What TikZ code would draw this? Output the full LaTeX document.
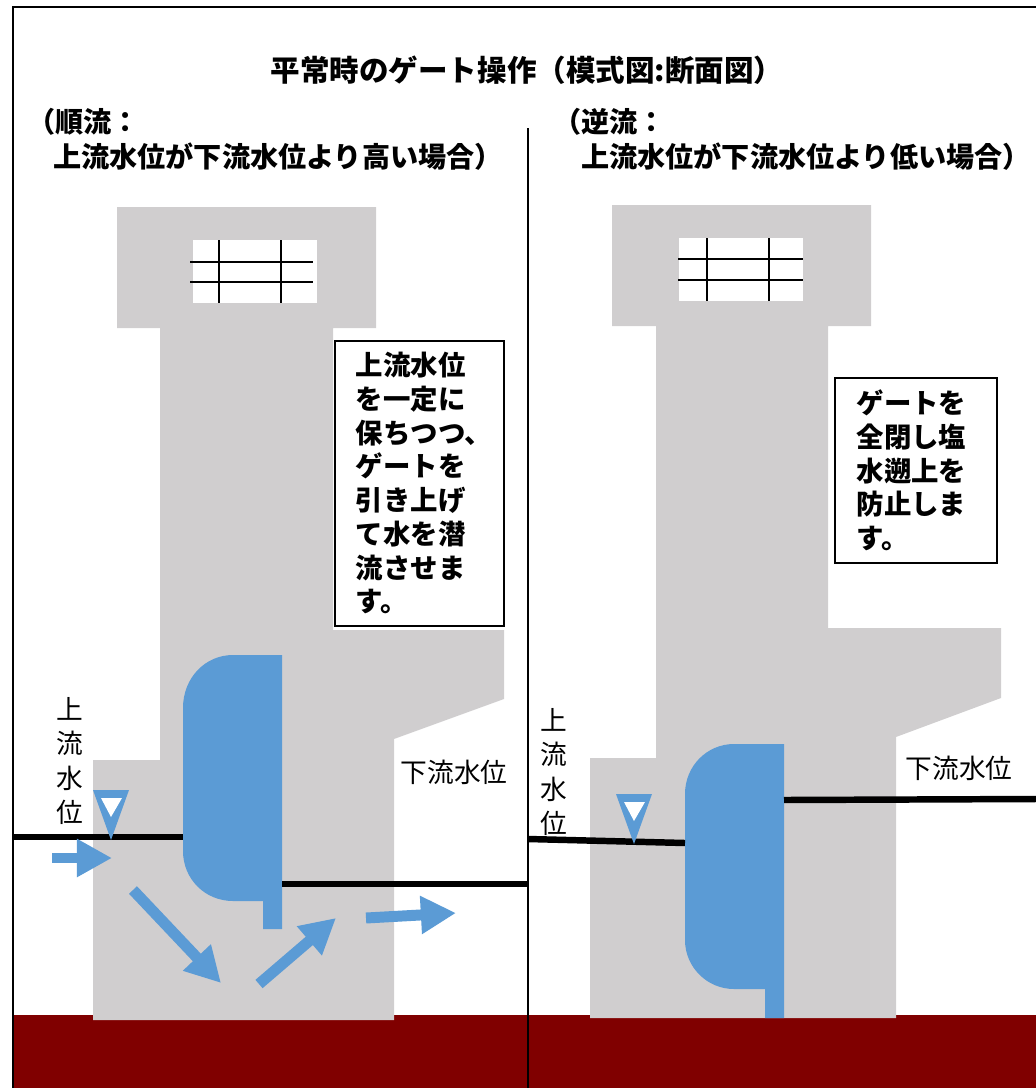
\documentclass[tikz,border=0pt]{standalone}
\usepackage{fontspec}
\newfontfamily\jpfont{Noto Sans CJK JP}
\usepackage{tikz}
\usetikzlibrary{arrows.meta}

\definecolor{wallgray}{HTML}{D0CECF}
\definecolor{gateblue}{HTML}{5B9BD5}
\definecolor{soilred}{HTML}{800000}

\tikzset{
  wall/.style={fill=wallgray},
  gate/.style={fill=gateblue},
  level/.style={line width=4.6pt},
  grid/.style={line width=1.4pt},
  flow/.style={draw=gateblue, line width=7.8pt, -{Triangle[length=25pt,width=25.6pt]}},
  heading/.style={font=\jpfont\bfseries\fontsize{21}{25}\selectfont, inner sep=0pt},
  case/.style={font=\jpfont\bfseries\fontsize{20}{25}\selectfont, inner sep=0pt, anchor=west},
  note/.style={draw, line width=1.1pt, fill=white, align=left, anchor=north west,
    font=\jpfont\bfseries\fontsize{19.5}{24}\selectfont, inner ysep=0pt},
  gauge/.style={font=\jpfont\fontsize{19}{24.2}\selectfont, inner sep=0pt, align=center},
  levelmark/.pic={
    \fill[gateblue] (-18,-50) -- (18,-50) -- (0,0) -- cycle;
    \fill[white] (-10,-42) -- (11,-42) -- (0,-23) -- cycle;
  },
}

\begin{document}
\begin{tikzpicture}[x=0.025cm,y=-0.025cm]
  \useasboundingbox (0,0) rectangle (1036,1088);

  % ground
  \fill[soilred] (13,1015) rectangle (1036,1088);

  % left: forward flow
  \fill[wall] (117,207) -- (376,207) -- (376,328) -- (333,328) -- (333,630)
    -- (504,630) -- (504,699) -- (394,739) -- (394,1020) -- (93,1020)
    -- (93,760) -- (160,760) -- (160,328) -- (117,328) -- cycle;
  \fill[white] (193,240) rectangle (317,303);
  \draw[grid] (219,240) -- (219,303) (281,240) -- (281,303);
  \draw[grid] (190,262) -- (313,262) (190,282) -- (313,282);
  \fill[gate] (282,655) -- (282,929) -- (263,929) -- (263,901) -- (233,901)
    .. controls (205,901) and (183,879) .. (183,851) -- (183,708)
    .. controls (183,678) and (205,655) .. (233,655) -- cycle;
  \draw[level] (13,837) -- (183,837);
  \draw[level] (282,884) -- (528,884);
  \pic at (111,840) {levelmark};
  \draw[flow] (52,858) -- (112,858);
  \draw[flow] (133,890) -- (221,983);
  \draw[flow] (259,984) -- (336,918);
  \draw[flow] (366,918) -- (456,913);

  % right: reverse flow
  \fill[wall] (612,205) -- (871,205) -- (871,326) -- (828,326) -- (828,628)
    -- (1001,628) -- (1001,698) -- (896,737) -- (896,1018) -- (590,1018)
    -- (590,758) -- (656,758) -- (656,326) -- (612,326) -- cycle;
  \fill[white] (679,238) rectangle (803,301);
  \draw[grid] (707,238) -- (707,301) (769,238) -- (769,301);
  \draw[grid] (678,259) -- (803,259) (678,280) -- (803,280);
  \fill[gate] (784,744) -- (784,1018) -- (765,1018) -- (765,989) -- (734,989)
    .. controls (707,989) and (685,967) .. (685,940) -- (685,794)
    .. controls (685,766) and (707,744) .. (734,744) -- cycle;
  \draw[level] (528,839) -- (685,843);
  \draw[level] (784,800) -- (1036,799);
  \pic at (634,844) {levelmark};

  % texts
  \node[heading] (title) at (527,70) {平常時のゲート操作（模式図:断面図）};
  \node[case] (fwdA) at (27,122) {（順流：};
  \node[case] (fwdB) at (53,157) {上流水位が下流水位より高い場合）};
  \node[case] (revA) at (553,122) {（逆流：};
  \node[case] (revB) at (581,157) {上流水位が下流水位より低い場合）};

  \node[note, minimum width=120.2pt, minimum height=202.7pt, text width=90.3pt,
    inner xsep=14.9pt] (fwdnote) at (334,340)
    {上流水位\\を一定に\\保ちつつ、\\ゲートを\\引き上げ\\て水を潜\\流させま\\す。};
  \node[note, minimum width=115.2pt, minimum height=131.6pt, text width=84pt,
    inner xsep=15.6pt] (revnote) at (834,377)
    {ゲートを\\全閉し塩\\水遡上を\\防止しま\\す。};

  \node[gauge] (upL) at (70,761) {上\\流\\水\\位};
  \node[gauge] (downL) at (454,772) {下流水位};
  \node[gauge] (upR) at (554,772) {上\\流\\水\\位};
  \node[gauge] (downR) at (959,768) {下流水位};

  % frame
  \draw[line width=1.4pt] (13,1088) -- (13,7) -- (1036,7);
  \draw[line width=1.4pt] (528,128) -- (528,1088);
\end{tikzpicture}
\end{document}
